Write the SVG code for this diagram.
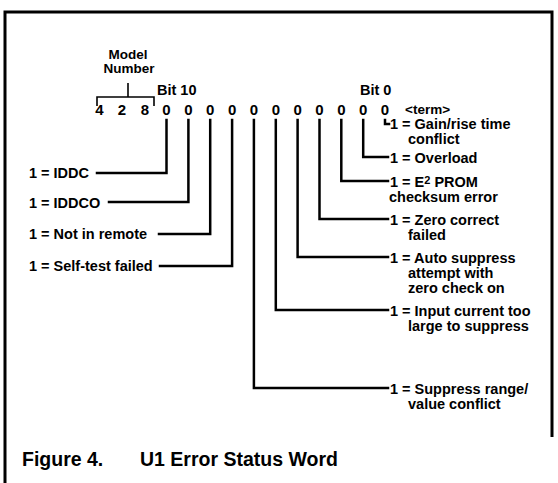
<svg xmlns="http://www.w3.org/2000/svg" width="558" height="483" viewBox="0 0 558 483">
<style>
text{font-family:"Liberation Sans",Arial,sans-serif;font-weight:bold;fill:#000}
.t{font-size:14.5px}
.m{font-size:13.5px;text-anchor:middle}
.d{font-size:15px;text-anchor:middle}
.cap{font-size:19.5px}
.ln{fill:none;stroke:#000;stroke-width:2.5;stroke-linecap:square}
.thin{fill:none;stroke:#000;stroke-width:1.6}
</style>
<rect width="558" height="483" fill="#fff"/>
<path id="frame" d="M5,483 V12 H552 V437" fill="none" stroke="#000" stroke-width="3"/>
<g id="model">
<text class="m" x="128" y="59">Model</text>
<text class="m" x="129" y="73">Number</text>
<path class="thin" d="M128,83 V97 M97,106 V97 H154 V106"/>
</g>
<g id="bitlabels">
<text class="t" x="157" y="95">Bit 10</text>
<text class="t" x="360" y="95">Bit 0</text>
</g>
<g id="digits">
<text class="d" x="99.5" y="115">4</text>
<text class="d" x="122" y="115">2</text>
<text class="d" x="145" y="115">8</text>
<text class="d" x="166.5" y="115">0</text>
<text class="d" x="188.4" y="115">0</text>
<text class="d" x="210.2" y="115">0</text>
<text class="d" x="232.1" y="115">0</text>
<text class="d" x="253.9" y="115">0</text>
<text class="d" x="275.8" y="115">0</text>
<text class="d" x="297.6" y="115">0</text>
<text class="d" x="319.5" y="115">0</text>
<text class="d" x="341.3" y="115">0</text>
<text class="d" x="363.2" y="115">0</text>
<text class="d" x="385" y="115">0</text>
<text x="405" y="114" font-size="13.5">&lt;term&gt;</text>
</g>
<g id="connectors">
<path class="ln" d="M166.5,120 V173 H97"/>
<path class="ln" d="M188.4,120 V202 H109"/>
<path class="ln" d="M210.2,120 V234 H159"/>
<path class="ln" d="M232.1,120 V266 H160"/>
<path class="ln" d="M385,120 V124 H389"/>
<path class="ln" d="M363.2,120 V157 H388"/>
<path class="ln" d="M341.3,120 V181 H388"/>
<path class="ln" d="M319.5,120 V219 H388"/>
<path class="ln" d="M297.6,120 V257 H388"/>
<path class="ln" d="M275.8,120 V310 H388"/>
<path class="ln" d="M253.9,120 V388 H388"/>
</g>
<g id="bit10"><text class="t" x="29" y="178">1 = IDDC</text></g>
<g id="bit9"><text class="t" x="29" y="208">1 = IDDCO</text></g>
<g id="bit8"><text class="t" x="29" y="239">1 = Not in remote</text></g>
<g id="bit7"><text class="t" x="29" y="271">1 = Self-test failed</text></g>
<g id="bit0"><text class="t" x="390" y="129">1 = Gain/rise time</text><text class="t" x="408" y="144">conflict</text></g>
<g id="bit1"><text class="t" x="390" y="163">1 = Overload</text></g>
<g id="bit2"><text class="t" x="390" y="187">1 = E<tspan font-size="11" dy="-3.5">2</tspan><tspan dy="3.5"> PROM</tspan></text><text class="t" x="389" y="202">checksum error</text></g>
<g id="bit3"><text class="t" x="390" y="225">1 = Zero correct</text><text class="t" x="408" y="240">failed</text></g>
<g id="bit4"><text class="t" x="390" y="263">1 = Auto suppress</text><text class="t" x="408" y="278">attempt with</text><text class="t" x="408" y="293">zero check on</text></g>
<g id="bit5"><text class="t" x="390" y="316">1 = Input current too</text><text class="t" x="408" y="331">large to suppress</text></g>
<g id="bit6"><text class="t" x="390" y="394">1 = Suppress range/</text><text class="t" x="408" y="409">value conflict</text></g>
<g id="caption">
<text class="cap" x="22" y="466">Figure 4.</text>
<text class="cap" x="140" y="466">U1 Error Status Word</text>
</g>
</svg>
